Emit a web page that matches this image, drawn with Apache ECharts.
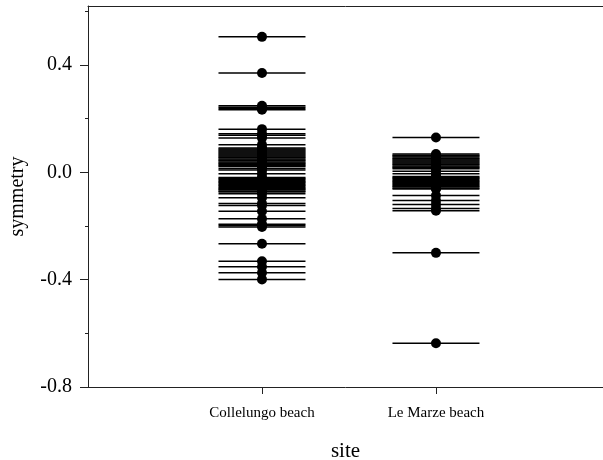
<!DOCTYPE html>
<html>
<head>
<meta charset="utf-8">
<script src="https://cdn.jsdelivr.net/npm/echarts@6/dist/echarts.min.js"></script>
<style>html,body{margin:0;padding:0;background:#fff}#c{width:603px;height:460px}</style>
</head>
<body>
<div id="c"></div>
<script>
const categories = ['Collelungo beach', 'Le Marze beach'];
const collelungo = [0.505, 0.37, 0.248, 0.243, 0.238, 0.233, 0.161, 0.144, 0.138, 0.128, 0.103,
  0.091, 0.087, 0.083, 0.080, 0.076, 0.072, 0.068, 0.065, 0.061, 0.057, 0.054, 0.050, 0.046, 0.043,
  0.039, 0.035, 0.032, 0.028, 0.025, 0.022, 0.014, 0.009, -0.005,
  -0.019, -0.023, -0.026, -0.030, -0.034, -0.037, -0.041, -0.045, -0.048, -0.052, -0.056, -0.059,
  -0.063, -0.066, -0.070, -0.073, -0.080, -0.095, -0.116, -0.124, -0.145, -0.173, -0.193, -0.198,
  -0.204, -0.266, -0.331, -0.352, -0.374, -0.399];
const leMarze = [0.13, 0.068, 0.064, 0.061, 0.057, 0.053, 0.050, 0.046, 0.042, 0.039, 0.035, 0.031,
  0.028, 0.024, 0.020, 0.017, 0.013, 0.004, -0.005,
  -0.015, -0.019, -0.022, -0.026, -0.030, -0.033, -0.037, -0.041, -0.044, -0.048, -0.052, -0.055,
  -0.059, -0.062, -0.086, -0.105, -0.120, -0.135, -0.143, -0.30, -0.637];
const yLabelTicks = [-0.8, -0.4, 0.0, 0.4];
const yMinorTicks = [-0.6, -0.2, 0.2, 0.6];

const groups = [collelungo, leMarze];
const points = [];
groups.forEach((arr, i) => arr.forEach(v => points.push([i + 1, v])));

const HALF = 0.25;
const font = 'Liberation Serif';
const chart = echarts.init(document.getElementById('c'));
chart.setOption({
  animation: false,
  grid: { left: 88, right: 0, top: 6, bottom: 73, outerBoundsMode: 'none', containLabel: false },
  xAxis: [{
    type: 'value', min: 0, max: 2.96, position: 'bottom',
    name: 'site', nameLocation: 'middle', nameGap: 54,
    nameTextStyle: { fontFamily: font, fontSize: 21, color: '#000' },
    axisLine: { show: true, onZero: false, lineStyle: { color: '#222', width: 1 } },
    axisTick: { show: true, length: 7, customValues: [1, 2], lineStyle: { color: '#222' } },
    axisLabel: { customValues: [1, 2], margin: 19, fontFamily: font, fontSize: 15, color: '#000',
      formatter: v => categories[Math.round(v) - 1] || '' },
    splitLine: { show: false }
  }, {
    type: 'value', min: 0, max: 2.96, position: 'top',
    axisLine: { show: true, onZero: false, lineStyle: { color: '#222', width: 1 } },
    axisTick: { show: false }, axisLabel: { show: false }, splitLine: { show: false }
  }],
  yAxis: [{
    type: 'value', min: -0.8, max: 0.62,
    name: 'symmetry', nameLocation: 'middle', nameGap: 60, nameRotate: 90,
    nameTextStyle: { fontFamily: font, fontSize: 20, color: '#000' },
    axisLine: { show: true, onZero: false, lineStyle: { color: '#222', width: 1 } },
    axisTick: { show: true, length: 8, customValues: yLabelTicks, lineStyle: { color: '#222' } },
    axisLabel: { customValues: yLabelTicks, margin: 16, fontFamily: font, fontSize: 20, color: '#000',
      formatter: v => v.toFixed(1) },
    splitLine: { show: false }
  }, {
    type: 'value', min: -0.8, max: 0.62, position: 'left',
    axisLine: { show: false, onZero: false },
    axisTick: { show: true, length: 3, customValues: yMinorTicks, lineStyle: { color: '#222' } },
    axisLabel: { show: false }, splitLine: { show: false }
  }],
  series: [{
    type: 'custom',
    data: points,
    renderItem: (params, api) => {
      const x = api.value(0), y = api.value(1);
      const p1 = api.coord([x - HALF, y]);
      const p2 = api.coord([x + HALF, y]);
      return { type: 'line', shape: { x1: p1[0], y1: p1[1], x2: p2[0], y2: p2[1] },
        style: { stroke: '#000', lineWidth: 1.5 } };
    },
    z: 1
  }, {
    type: 'scatter',
    data: points,
    symbol: 'circle', symbolSize: 10,
    itemStyle: { color: '#000', opacity: 1 },
    z: 2
  }]
});
</script>
</body>
</html>
